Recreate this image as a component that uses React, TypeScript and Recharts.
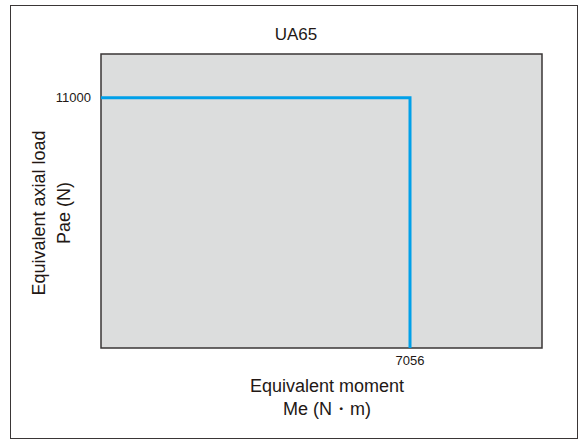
import { LineChart, Line, XAxis, YAxis, ReferenceArea } from "recharts";

// limit curve of the UA65 unit: moment (N·m) vs axial load (N)
const momentValues = [0, 7056, 7056];
const loadValues = [11000, 11000, 0];
const xTicks = [7056];
const yTicks = [11000];
const xMax = 10070;
const yMax = 12920;

const rows = momentValues.map((m, i) => ({ m, p: loadValues[i] }));

const FONT = '"Liberation Sans", Arial, sans-serif';
const INK = "#3a3636";
const TEXT = "#231815";

export default function App() {
  return (
    <div style={{ position: "fixed", left: 0, top: 0, width: 580, height: 440, background: "#fff", fontFamily: FONT }}>
      <div style={{ position: "absolute", left: 10, top: 5, width: 566, height: 432, border: `1.5px solid ${INK}` }} />
      <LineChart
        width={580}
        height={440}
        data={rows}
        margin={{ top: 54, right: 38, bottom: 62, left: 61 }}
        style={{ position: "absolute", left: 0, top: 0 }}
      >
        <XAxis
          dataKey="m"
          type="number"
          domain={[0, xMax]}
          allowDataOverflow
          ticks={xTicks}
          interval={0}
          height={30}
          axisLine={false}
          tickLine={false}
          tickMargin={2}
          tick={{ fontSize: 13, fill: TEXT, fontFamily: FONT }}
        />
        <YAxis
          dataKey="p"
          type="number"
          domain={[0, yMax]}
          allowDataOverflow
          ticks={yTicks}
          interval={0}
          width={40}
          axisLine={false}
          tickLine={false}
          tickMargin={4}
          tick={{ fontSize: 13, fill: TEXT, fontFamily: FONT }}
        />
        <ReferenceArea x1={0} x2={xMax} y1={0} y2={yMax} fill="#dcdddd" fillOpacity={1} stroke={INK} strokeWidth={1.5} />
        <Line
          dataKey="p"
          type="linear"
          stroke="#00a0e9"
          strokeWidth={3}
          dot={false}
          activeDot={false}
          isAnimationActive={false}
        />
      </LineChart>
      <svg width={580} height={440} style={{ position: "absolute", left: 0, top: 0, pointerEvents: "none" }}>
        <g fontFamily={FONT} fill={TEXT} textAnchor="middle">
          <text x={296} y={40} fontSize={17}>UA65</text>
          <text x={327} y={392} fontSize={18}>Equivalent moment</text>
          <text x={327} y={415} fontSize={18}>Me (N・m)</text>
          <text transform="translate(45,213) rotate(-90)" fontSize={18}>Equivalent axial load</text>
          <text transform="translate(70,213) rotate(-90)" fontSize={18}>Pae (N)</text>
        </g>
      </svg>
    </div>
  );
}
